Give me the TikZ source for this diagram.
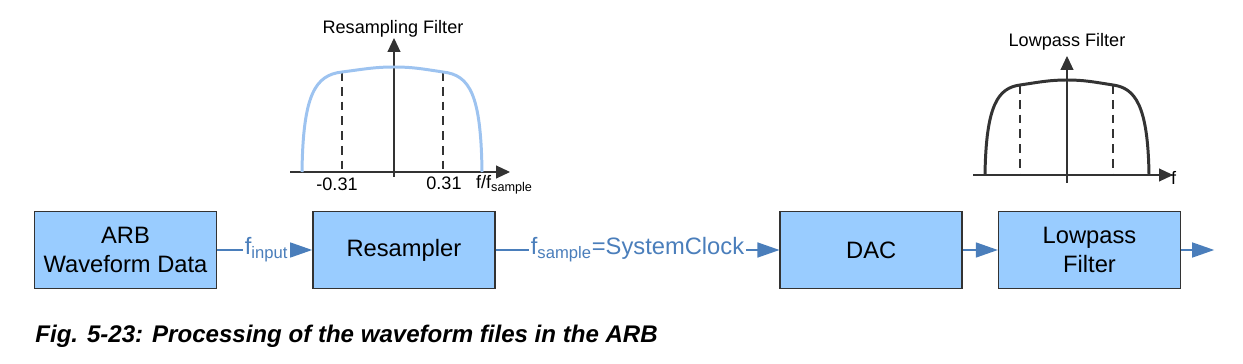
\documentclass[tikz,border=0pt]{standalone}
\usepackage{fontspec}
\setmainfont{Liberation Sans}
\usepackage{tikz}
\usetikzlibrary{arrows.meta, positioning}
\definecolor{boxblue}{HTML}{99CCFF}
\definecolor{flowblue}{HTML}{4A7EBB}
\definecolor{curveblue}{HTML}{9DC3F0}

\begin{document}
\begin{tikzpicture}[x=0.02cm, y=-0.02cm,
    block/.style={rectangle, draw=black!80, fill=boxblue, thick, minimum width=3.64cm, minimum height=1.54cm, align=center, font=\fontsize{13.5}{16.4}\selectfont},
    flow/.style={draw=flowblue, thick, -{Triangle[length=0.44cm, width=0.3cm]}},
    lbl/.style={fill=white, text=flowblue, inner sep=1pt, font=\fontsize{13.5}{16}\selectfont},
    axis/.style={draw=black!80, semithick, -{Triangle[length=0.28cm, width=0.26cm]}},
    cut/.style={draw=black!80, semithick, dash pattern=on 5pt off 3.4pt},
    small/.style={font=\fontsize{10.3}{12}\selectfont, inner sep=1pt}]
    \useasboundingbox (0,0) rectangle (1243,364);

    % signal chain
    \node [block] (arb) at (125.5,250) {ARB\\Waveform Data};
    \node [block, right=1.9cm of arb] (res) {Resampler};
    \node [block, right=5.68cm of res] (dac) {DAC};
    \node [block, right=0.7cm of dac] (lpf) {Lowpass\\Filter};
    \coordinate [right=0.66cm of lpf] (out);

    \path [flow] (arb) -- node[lbl, pos=0.52] (finput) {f\textsubscript{input}} (res);
    \path [flow] (res) -- node[lbl, pos=0.5] (fsample) {f\textsubscript{sample}=SystemClock} (dac);
    \path [flow] (dac) -- (lpf);
    \path [flow] (lpf) -- (out);

    % resampling filter
    \draw [axis] (290,172) -- (510,172);
    \draw [axis] (394,177) -- (394,38);
    \draw [cut] (342,72) -- (342,172);
    \draw [cut] (443,72) -- (443,172);
    \draw [curveblue, line width=1.7pt] (302,172) .. controls (303,95) and (315,75) .. (342,72)
        .. controls (365,69) and (375,67) .. (394,67) .. controls (413,67) and (423,69) .. (443,72)
        .. controls (470,75) and (481,95) .. (482,172);
    \node [small] (rtitle) at (393,29) {Resampling Filter};
    \node [small] (rneg) at (337,184) {-0.31};
    \node [small] (rpos) at (444,183) {0.31};
    \node [small, anchor=west] (raxis) at (474,185) {f/f\textsubscript{sample}};

    % lowpass filter
    \draw [axis] (973,175) -- (1173,175);
    \draw [axis] (1067,183) -- (1067,56);
    \draw [cut] (1020,85) -- (1020,175);
    \draw [cut] (1113,85) -- (1113,175);
    \draw [black!80, line width=1.7pt] (985,175) .. controls (986,105) and (998,88) .. (1020,85)
        .. controls (1040,82) and (1050,80) .. (1067,80) .. controls (1084,80) and (1094,82) .. (1113,85)
        .. controls (1135,88) and (1148,105) .. (1149,175);
    \node [small] (ltitle) at (1067,42) {Lowpass Filter};
    \node [small, anchor=west] (laxis) at (1169,178) {f};

    % caption
    \node [anchor=west, inner sep=0pt, font=\fontsize{13.7}{16}\selectfont\bfseries\itshape] (caption) at (35,336)
        {Fig. 5-23: Processing of the waveform files in the ARB};
\end{tikzpicture}
\end{document}
